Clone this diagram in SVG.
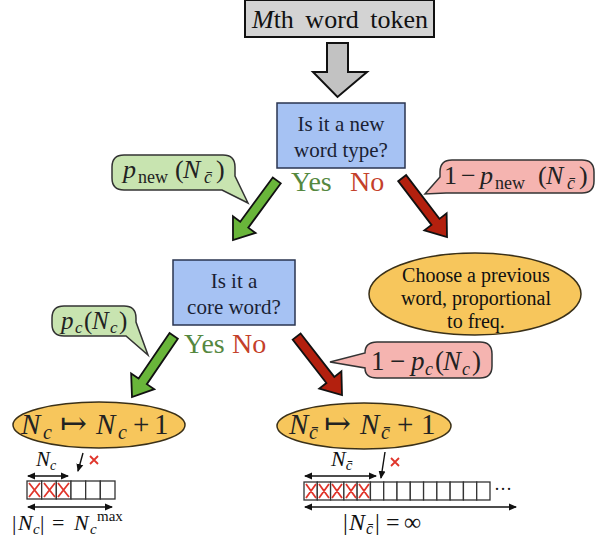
<svg xmlns="http://www.w3.org/2000/svg" width="595" height="544" viewBox="0 0 595 544" font-family="'Liberation Serif', 'Times New Roman', Times, 'DejaVu Serif', serif">
  <defs>
    <style>
      .it { font-style: italic; }
      .q { font-size: 21px; text-anchor: middle; fill: #1a1f33; }
      .yes { font-size: 28px; fill: #55883f; }
      .no { font-size: 28px; fill: #c4402a; }
      .box { fill: #a6c2f3; stroke: #2a3550; stroke-width: 1.5; }
      .oval { fill: #f7c65c; stroke: #3a3018; stroke-width: 1.5; }
      .callg { fill: #c8e4b0; stroke: #333; stroke-width: 1.5; }
      .callr { fill: #f5b4b0; stroke: #333; stroke-width: 1.5; }
      .ag { fill: #69b53a; stroke: #111; stroke-width: 1.8; stroke-linejoin: miter; }
      .ar { fill: #b3200e; stroke: #111; stroke-width: 1.8; stroke-linejoin: miter; }
      .cell { fill: #fff; stroke: #333; stroke-width: 1.3; }
      .x { stroke: #e0352b; stroke-width: 1.8; fill: none; }
      .dim { stroke: #111; stroke-width: 1.4; fill: none; }
      .math { fill: #222; }
    </style>
    <marker id="tip" markerWidth="8" markerHeight="8" refX="7" refY="4" orient="auto-start-reverse" markerUnits="userSpaceOnUse">
      <path d="M0,0.5 L8,4 L0,7.5 Z" fill="#111"/>
    </marker>
    <!-- block arrow pointing along +x, tip at origin -->
    <polygon id="barrow" points="-74,-5 -19,-5 -19,-14 0,0 -19,14 -19,5 -74,5"/>
  </defs>

  <!-- start token -->
  <g id="token">
    <rect x="245" y="0" width="189" height="37" fill="#d3d3d3" stroke="#111" stroke-width="2"/>
    <text x="340" y="28" font-size="26" text-anchor="middle" word-spacing="5" fill="#111"><tspan class="it">M</tspan>th word token</text>
  </g>

  <g id="down">
    <polygon points="327,43 348,43 348,72 367,72 337.5,97 313,72 327,72" fill="#c2c2c2" stroke="#111" stroke-width="2"/>
  </g>

  <!-- first decision -->
  <g id="q-new">
    <rect class="box" x="277" y="103" width="128" height="65"/>
    <text class="q" x="341" y="131">Is it a new</text>
    <text class="q" x="341" y="157">word type?</text>
    <text class="yes" x="291" y="191">Yes</text>
    <text class="no" x="350" y="191">No</text>
  </g>

  <!-- second decision -->
  <g id="q-core">
    <rect class="box" x="173" y="260" width="122" height="65"/>
    <text class="q" x="234" y="288">Is it a</text>
    <text class="q" x="234" y="314">core word?</text>
    <text class="yes" x="184" y="353">Yes</text>
    <text class="no" x="232" y="353">No</text>
  </g>

  <g id="choose-prev">
    <ellipse class="oval" cx="475" cy="294" rx="106" ry="41"/>
    <text x="476" y="282" font-size="20" text-anchor="middle" fill="#111">Choose a previous</text>
    <text x="476" y="305" font-size="20" text-anchor="middle" fill="#111">word, proportional</text>
    <text x="476" y="328" font-size="20" text-anchor="middle" fill="#111">to freq.</text>
  </g>

  <!-- probability callouts -->
  <g id="p-new">
    <path class="callg" d="M124,155 H223 Q235,155 235,167 V176 L248,203 L222,190 H124 Q112,190 112,178 V167 Q112,155 124,155 Z"/>
    <text class="math" y="178" font-size="26"><tspan class="it" x="123">p</tspan><tspan x="138" dy="5" font-size="18">new</tspan><tspan x="175" dy="-5">(</tspan><tspan class="it" x="183">N</tspan><tspan class="it" x="204" dy="5" font-size="18">c̄</tspan><tspan x="216" dy="-5">)</tspan></text>
  </g>

  <g id="p-old">
    <path class="callr" d="M452,160 H582 Q594,160 594,172 V181 Q594,193 582,193 H446 L425,194 L440,177 V172 Q440,160 452,160 Z"/>
    <text class="math" y="184" font-size="26"><tspan x="444">1</tspan><tspan x="461">−</tspan><tspan class="it" x="480">p</tspan><tspan x="495" dy="5" font-size="18">new</tspan><tspan x="538" dy="-5">(</tspan><tspan class="it" x="546">N</tspan><tspan class="it" x="567" dy="5" font-size="18">c̄</tspan><tspan x="579" dy="-5">)</tspan></text>
  </g>

  <g id="p-core">
    <path class="callg" d="M64,306 H124 Q136,306 136,318 V322 L148,355 L126,336 H64 Q52,336 52,324 V318 Q52,306 64,306 Z"/>
    <text class="math" y="329" font-size="25"><tspan class="it" x="61">p</tspan><tspan class="it" x="75" dy="4" font-size="17">c</tspan><tspan x="84" dy="-4">(</tspan><tspan class="it" x="92">N</tspan><tspan class="it" x="110" dy="4" font-size="17">c</tspan><tspan x="119" dy="-4">)</tspan></text>
  </g>

  <g id="p-noncore">
    <path class="callr" d="M377,342 H480 Q492,342 492,354 V366 Q492,378 480,378 H377 Q365,378 365,368 L330,362 L365,353 Q365,342 377,342 Z"/>
    <text class="math" y="370" font-size="27"><tspan x="371">1</tspan><tspan x="390">−</tspan><tspan class="it" x="411">p</tspan><tspan class="it" x="425" dy="5" font-size="18">c</tspan><tspan x="435" dy="-5">(</tspan><tspan class="it" x="443">N</tspan><tspan class="it" x="462" dy="5" font-size="18">c</tspan><tspan x="472" dy="-5">)</tspan></text>
  </g>

  <!-- branch arrows -->
  <g id="connectors">
    <use href="#barrow" class="ag" transform="translate(233,240) rotate(126.3)"/>
    <use href="#barrow" class="ar" transform="translate(447,237) rotate(52.7)"/>
    <use href="#barrow" class="ag" transform="translate(132,397) rotate(124.3)"/>
    <use href="#barrow" class="ar" transform="translate(342,395) rotate(52.2)"/>
  </g>

  <!-- core vocabulary update -->
  <g id="core-update">
    <ellipse class="oval" cx="99" cy="425" rx="86" ry="23"/>
    <text class="math" y="434" font-size="29"><tspan class="it" x="21">N</tspan><tspan class="it" x="43" dy="5" font-size="20">c</tspan><tspan x="60" dy="-5" font-size="32">↦</tspan><tspan class="it" x="96">N</tspan><tspan class="it" x="118" dy="5" font-size="20">c</tspan><tspan x="133" dy="-5">+</tspan><tspan x="154">1</tspan></text>
  </g>

  <g id="core-array">
    <text x="36" y="466" font-size="21" fill="#111"><tspan class="it">N</tspan><tspan class="it" font-size="14" dy="4">c</tspan></text>
    <line class="dim" x1="28" y1="476" x2="68" y2="476" marker-start="url(#tip)" marker-end="url(#tip)"/>
    <line class="dim" x1="83" y1="453" x2="78" y2="471" marker-end="url(#tip)"/>
    <path class="x" d="M90,456 L98,464 M98,456 L90,464"/>
    <rect class="cell" x="27" y="481" width="14.67" height="18"/>
    <rect class="cell" x="41.67" y="481" width="14.67" height="18"/>
    <rect class="cell" x="56.33" y="481" width="14.67" height="18"/>
    <rect class="cell" x="71" y="481" width="14.67" height="18"/>
    <rect class="cell" x="85.67" y="481" width="14.67" height="18"/>
    <rect class="cell" x="100.33" y="481" width="14.67" height="18"/>
    <path class="x" d="M29,483 L40,497 M40,483 L29,497 M44,483 L55,497 M55,483 L44,497 M58,483 L69,497 M69,483 L58,497"/>
    <line class="dim" x1="28" y1="507" x2="112" y2="507" marker-start="url(#tip)" marker-end="url(#tip)"/>
    <text y="530" font-size="22" fill="#111"><tspan x="12">|</tspan><tspan class="it" x="18">N</tspan><tspan class="it" x="33" dy="4" font-size="15">c</tspan><tspan x="40" dy="-4">|</tspan><tspan x="52">=</tspan><tspan class="it" x="74">N</tspan><tspan class="it" x="90" dy="4" font-size="15">c</tspan><tspan x="97" dy="-13" font-size="15">max</tspan></text>
  </g>

  <!-- non-core vocabulary update -->
  <g id="noncore-update">
    <ellipse class="oval" cx="364" cy="426" rx="87" ry="23"/>
    <text class="math" y="434" font-size="29"><tspan class="it" x="289">N</tspan><tspan class="it" x="309" dy="5" font-size="20">c̄</tspan><tspan x="324" dy="-5" font-size="32">↦</tspan><tspan class="it" x="360">N</tspan><tspan class="it" x="381" dy="5" font-size="20">c̄</tspan><tspan x="397" dy="-5">+</tspan><tspan x="421">1</tspan></text>
  </g>

  <g id="noncore-array">
    <text x="331" y="466" font-size="22" fill="#111"><tspan class="it">N</tspan><tspan class="it" font-size="15" dy="4">c̄</tspan></text>
    <line class="dim" x1="305" y1="476" x2="376" y2="476" marker-start="url(#tip)" marker-end="url(#tip)"/>
    <line class="dim" x1="385" y1="452" x2="381" y2="478" marker-end="url(#tip)"/>
    <path class="x" d="M391,458 L399,466 M399,458 L391,466"/>
    <g>
      <rect class="cell" x="304" y="482" width="13.29" height="18"/>
      <rect class="cell" x="317.29" y="482" width="13.29" height="18"/>
      <rect class="cell" x="330.57" y="482" width="13.29" height="18"/>
      <rect class="cell" x="343.86" y="482" width="13.29" height="18"/>
      <rect class="cell" x="357.14" y="482" width="13.29" height="18"/>
      <rect class="cell" x="370.43" y="482" width="13.29" height="18"/>
      <rect class="cell" x="383.71" y="482" width="13.29" height="18"/>
      <rect class="cell" x="397" y="482" width="13.29" height="18"/>
      <rect class="cell" x="410.29" y="482" width="13.29" height="18"/>
      <rect class="cell" x="423.57" y="482" width="13.29" height="18"/>
      <rect class="cell" x="436.86" y="482" width="13.29" height="18"/>
      <rect class="cell" x="450.14" y="482" width="13.29" height="18"/>
      <rect class="cell" x="463.43" y="482" width="13.29" height="18"/>
      <rect class="cell" x="476.71" y="482" width="13.29" height="18"/>
    </g>
    <path class="x" d="M306,484 L316,498 M316,484 L306,498 M319,484 L329,498 M329,484 L319,498 M332,484 L342,498 M342,484 L332,498 M346,484 L356,498 M356,484 L346,498 M359,484 L369,498 M369,484 L359,498"/>
    <text x="494" y="495" font-size="18" fill="#111">···</text>
    <line class="dim" x1="305" y1="507" x2="516" y2="507" marker-start="url(#tip)" marker-end="url(#tip)"/>
    <text y="530" font-size="24" fill="#111"><tspan x="343">|</tspan><tspan class="it" x="349">N</tspan><tspan class="it" x="366" dy="4" font-size="16">c̄</tspan><tspan x="375" dy="-4">|</tspan><tspan x="386">=</tspan><tspan x="404">∞</tspan></text>
  </g>
</svg>
